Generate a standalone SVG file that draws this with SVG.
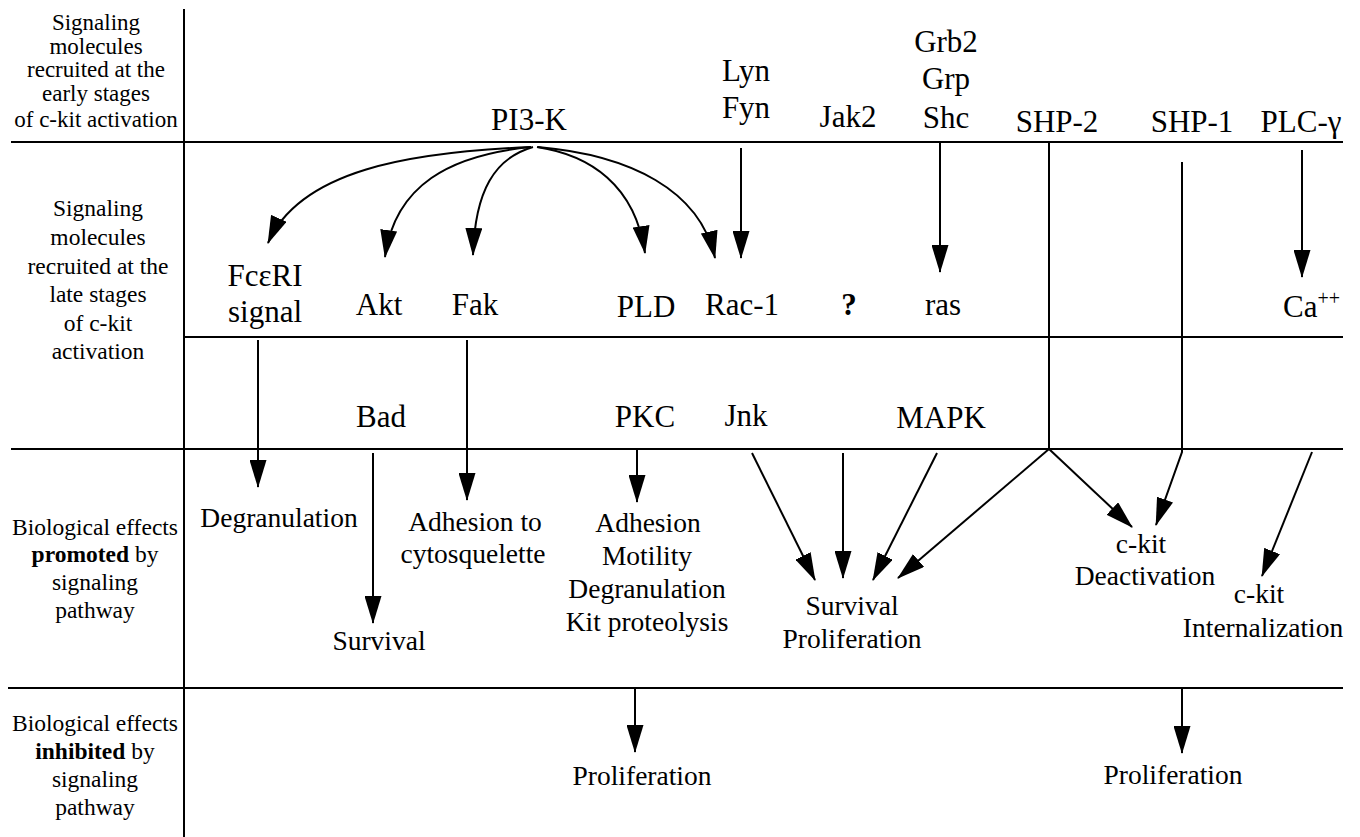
<svg xmlns="http://www.w3.org/2000/svg" width="1360" height="837" viewBox="0 0 1360 837">
<style>
text{font-family:'Liberation Serif','DejaVu Serif',serif;fill:#000;text-anchor:middle}
.h{font-size:23px}
.h2{font-size:23.5px}
.m{font-size:31px}
.e{font-size:27.5px}
.grid line{stroke:#000;stroke-width:2}
.c path,.c line,.c polyline{stroke:#000;stroke-width:2;fill:none}
.arr{marker-end:url(#ah)}
</style>
<defs>
<marker id="ah" viewBox="0 0 28 17" refX="27" refY="8.5" markerWidth="28" markerHeight="17" markerUnits="userSpaceOnUse" orient="auto">
<path d="M0,0 L28,8.5 L0,17 z" fill="#000"/>
</marker>
</defs>
<rect width="1360" height="837" fill="#fff"/>
<g id="grid" class="grid">
<line x1="184" y1="9" x2="184" y2="837"/>
<line x1="11" y1="142" x2="1343" y2="142"/>
<line x1="184" y1="337" x2="1343" y2="337"/>
<line x1="11" y1="449" x2="1343" y2="449"/>
<line x1="8" y1="688" x2="1343" y2="688"/>
</g>
<g id="row-labels">
<g id="label-early">
<text class="h" x="96" y="30">Signaling</text>
<text class="h" x="96" y="54">molecules</text>
<text class="h" x="96" y="77">recruited at the</text>
<text class="h" x="96" y="101">early stages</text>
<text class="h" x="96" y="127">of c-kit activation</text>
</g>
<g id="label-late">
<text class="h2" x="98" y="216">Signaling</text>
<text class="h2" x="98" y="245">molecules</text>
<text class="h2" x="98" y="274">recruited at the</text>
<text class="h2" x="98" y="302">late stages</text>
<text class="h2" x="98" y="331">of c-kit</text>
<text class="h2" x="98" y="359">activation</text>
</g>
<g id="label-promoted">
<text class="h2" x="95" y="535">Biological effects</text>
<text class="h2" x="95" y="562"><tspan font-weight="bold">promoted</tspan> by</text>
<text class="h2" x="95" y="590">signaling</text>
<text class="h2" x="95" y="618">pathway</text>
</g>
<g id="label-inhibited">
<text class="h2" x="95" y="731">Biological effects</text>
<text class="h2" x="95" y="759"><tspan font-weight="bold">inhibited</tspan> by</text>
<text class="h2" x="95" y="787">signaling</text>
<text class="h2" x="95" y="815">pathway</text>
</g>
</g>
<g id="n-pi3k"><text class="m" x="529" y="130">PI3-K</text></g>
<g id="n-lynfyn"><text class="m" x="746" y="81">Lyn</text><text class="m" x="746" y="118">Fyn</text></g>
<g id="n-jak2"><text class="m" x="848" y="127">Jak2</text></g>
<g id="n-grb2"><text class="m" x="946" y="52">Grb2</text><text class="m" x="946" y="89">Grp</text><text class="m" x="946" y="128">Shc</text></g>
<g id="n-shp2"><text class="m" x="1057" y="132">SHP-2</text></g>
<g id="n-shp1"><text class="m" x="1192" y="132">SHP-1</text></g>
<g id="n-plcg"><text class="m" x="1301" y="132">PLC-γ</text></g>
<g id="n-fceri"><text class="m" x="265" y="286">FcεRI</text><text class="m" x="265" y="322">signal</text></g>
<g id="n-akt"><text class="m" x="379" y="315">Akt</text></g>
<g id="n-fak"><text class="m" x="475" y="315">Fak</text></g>
<g id="n-pld"><text class="m" x="646" y="317">PLD</text></g>
<g id="n-rac1"><text class="m" x="742" y="315">Rac-1</text></g>
<g id="n-q"><text class="m" x="849" y="315" font-weight="bold">?</text></g>
<g id="n-ras"><text class="m" x="943" y="315">ras</text></g>
<g id="n-ca"><text class="m" x="1283" y="317" style="text-anchor:start">Ca<tspan font-size="20" dy="-12">++</tspan></text></g>
<g id="n-bad"><text class="m" x="381" y="427">Bad</text></g>
<g id="n-pkc"><text class="m" x="645" y="427">PKC</text></g>
<g id="n-jnk"><text class="m" x="746" y="426">Jnk</text></g>
<g id="n-mapk"><text class="m" x="941" y="428">MAPK</text></g>
<g id="n-degran"><text class="e" x="279" y="527">Degranulation</text></g>
<g id="n-adhesion-cyto"><text class="e" x="475" y="531">Adhesion to</text><text class="e" x="473" y="563">cytosquelette</text></g>
<g id="n-survival"><text class="e" x="379" y="650">Survival</text></g>
<g id="n-pkc-effects"><text class="e" x="648" y="532">Adhesion</text><text class="e" x="647" y="565">Motility</text><text class="e" x="647" y="598">Degranulation</text><text class="e" x="647" y="631">Kit proteolysis</text></g>
<g id="n-survprol"><text class="e" x="852" y="615">Survival</text><text class="e" x="852" y="648">Proliferation</text></g>
<g id="n-deact"><text class="e" x="1141" y="553">c-kit</text><text class="e" x="1145" y="585">Deactivation</text></g>
<g id="n-intern"><text class="e" x="1259" y="603">c-kit</text><text class="e" x="1263" y="637">Internalization</text></g>
<g id="n-prolif1"><text class="e" x="642" y="785">Proliferation</text></g>
<g id="n-prolif2"><text class="e" x="1173" y="784">Proliferation</text></g>
<g id="connectors" class="c">
<path class="arr" d="M531 147 C410 152 300 170 268 243"/>
<path class="arr" d="M531 147 C450 155 395 185 385 257"/>
<path class="arr" d="M533 147 C495 158 475 190 473 255"/>
<path class="arr" d="M537 147 C590 155 635 185 645 253"/>
<path class="arr" d="M538 147 C630 155 700 190 715 258"/>
<line class="arr" x1="741" y1="148" x2="741" y2="258"/>
<line class="arr" x1="940" y1="143" x2="940" y2="272"/>
<line class="arr" x1="1302" y1="150" x2="1302" y2="277"/>
<line class="arr" x1="258" y1="340" x2="258" y2="487"/>
<line class="arr" x1="467" y1="340" x2="467" y2="500"/>
<line class="arr" x1="373" y1="453" x2="373" y2="623"/>
<line class="arr" x1="637" y1="450" x2="637" y2="502"/>
<line class="arr" x1="752" y1="453" x2="815" y2="580"/>
<line class="arr" x1="843" y1="453" x2="843" y2="578"/>
<line class="arr" x1="937" y1="453" x2="873" y2="580"/>
<line x1="1049" y1="143" x2="1049" y2="449"/>
<line class="arr" x1="1049" y1="449" x2="898" y2="578"/>
<line class="arr" x1="1049" y1="449" x2="1132" y2="527"/>
<polyline class="arr" points="1182,162 1182,452 1156,525"/>
<line class="arr" x1="1312" y1="452" x2="1262" y2="576"/>
<line class="arr" x1="635" y1="689" x2="635" y2="752"/>
<line class="arr" x1="1182" y1="689" x2="1182" y2="753"/>
</g>
</svg>
